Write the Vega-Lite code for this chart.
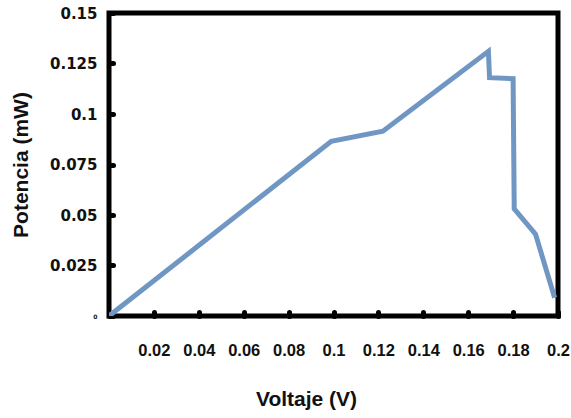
{
  "$schema": "https://vega.github.io/schema/vega-lite/v6.json",
  "width": 449,
  "height": 303,
  "autosize": {"type": "none"},
  "padding": {"left": 109, "top": 13, "right": 13, "bottom": 102},
  "background": "white",
  "data": {"values": [
    {"v": 0.0, "p": 0.0},
    {"v": 0.099, "p": 0.0865},
    {"v": 0.122, "p": 0.0915},
    {"v": 0.169, "p": 0.131},
    {"v": 0.1695, "p": 0.118},
    {"v": 0.18, "p": 0.1175},
    {"v": 0.1805, "p": 0.053},
    {"v": 0.19, "p": 0.0405},
    {"v": 0.1985, "p": 0.009}
  ]},
  "mark": {"type": "line", "color": "#7097c4", "strokeWidth": 5, "strokeJoin": "miter", "clip": true},
  "encoding": {
    "x": {
      "field": "v", "type": "quantitative",
      "scale": {"domain": [0, 0.2], "nice": false, "zero": true},
      "axis": {
        "title": "Voltaje (V)",
        "values": [0.02, 0.04, 0.06, 0.08, 0.1, 0.12, 0.14, 0.16, 0.18, 0.2],
        "labelExpr": "format(datum.value, '~g')",
        "grid": false, "domain": false,
        "tickSize": -4, "tickWidth": 5, "tickCap": "round", "tickColor": "black",
        "labelFont": "Liberation Sans", "labelFontWeight": "bold", "labelFontSize": 16.5,
        "labelColor": "#111", "labelPadding": 30, "labelFlush": false, "labelOverlap": false,
        "titleFont": "Liberation Sans", "titleFontWeight": "bold", "titleFontSize": 21,
        "titleColor": "#111", "titlePadding": 30, "titleX": 197
      }
    },
    "y": {
      "field": "p", "type": "quantitative",
      "scale": {"domain": [0, 0.15], "nice": false},
      "axis": {
        "title": "Potencia (mW)",
        "values": [0, 0.025, 0.05, 0.075, 0.1, 0.125, 0.15],
        "labelExpr": "format(datum.value, '~g')",
        "grid": false, "domain": false,
        "tickSize": -4, "tickWidth": 5, "tickCap": "round", "tickColor": "black",
        "labelFont": "DejaVu Sans", "labelFontWeight": "bold",
        "labelFontSize": {"condition": {"test": "datum.value == 0", "value": 6}, "value": 15},
        "labelColor": "#111", "labelPadding": 16, "labelFlush": false, "labelOverlap": false,
        "titleFont": "Liberation Sans", "titleFontWeight": "bold", "titleFontSize": 21,
        "titleColor": "#111", "titlePadding": 18
      }
    }
  },
  "config": {
    "view": {"stroke": "black", "strokeWidth": 5}
  }
}
